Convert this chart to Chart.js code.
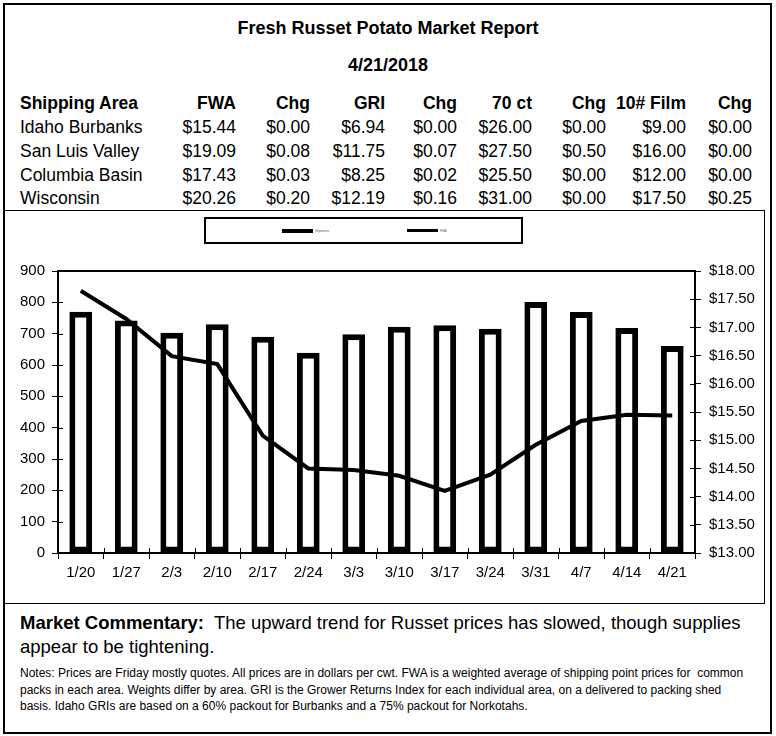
<!DOCTYPE html>
<html>
<head>
<meta charset="utf-8">
<title>Fresh Russet Potato Market Report</title>
<script src="https://cdn.jsdelivr.net/npm/chart.js@4.4.1/dist/chart.umd.min.js"></script>
<style>
  body { margin: 0; background: #fff; font-family: Arial, "Liberation Sans", sans-serif; color: #000; }
  #page { position: relative; width: 776px; height: 736px; overflow: hidden; }
  .abs { position: absolute; white-space: nowrap; line-height: 20px; }
  .box { position: absolute; border: 2px solid #000; box-sizing: border-box; }
  .title { left: 0; width: 776px; text-align: center; font-weight: bold; font-size: 18px; }
  .cell { font-size: 17.5px; }
  .hdr { font-weight: bold; }
  #chartWrap { position: absolute; left: 0; top: 250px; width: 776px; height: 350px; }
  .legLine { position: absolute; background: #000; }
  .legText { position: absolute; font-size: 3px; line-height: 4px; color: #555; }
  #comment { left: 20px; top: 611px; font-size: 18.5px; line-height: 24px; }
  #notes { left: 20px; top: 665px; font-size: 12px; line-height: 16.5px; }
</style>
</head>
<body>
<div id="page">
  <div class="box" style="left:3px;top:3px;width:769px;height:731px;"></div>
  <div class="box" style="left:3px;top:210px;width:762px;height:394px;border-width:1.5px;"></div>
  <div class="box" style="left:204px;top:217px;width:319px;height:27px;"></div>

  <div class="abs title" style="top:18px;">Fresh Russet Potato Market Report</div>
  <div class="abs title" style="top:55px;">4/21/2018</div>
  <div id="table"></div>

  <div class="legLine" style="left:282px;top:229px;width:31px;height:4px;"></div>
  <div class="legText" style="left:315px;top:229px;">Shipments</div>
  <div class="legLine" style="left:407px;top:229px;width:31px;height:3px;"></div>
  <div class="legText" style="left:440px;top:229px;">FWA</div>

  <div id="chartWrap"><canvas id="potato" width="776" height="350"></canvas></div>

  <div class="abs" id="comment"><b>Market Commentary:</b>&nbsp; The upward trend for Russet prices has slowed, though supplies<br>appear to be tightening.</div>
  <div class="abs" id="notes">Notes: Prices are Friday mostly quotes. All prices are in dollars per cwt. FWA is a weighted average of shipping point prices for &nbsp;common<br>packs in each area. Weights differ by area. GRI is the Grower Returns Index for each individual area, on a delivered to packing shed<br>basis. Idaho GRIs are based on a 60% packout for Burbanks and a 75% packout for Norkotahs.</div>
</div>

<script>
// table values
const tableHeaders = ['Shipping Area', 'FWA', 'Chg', 'GRI', 'Chg', '70 ct', 'Chg', '10# Film', 'Chg'];
const areas   = ['Idaho Burbanks', 'San Luis Valley', 'Columbia Basin', 'Wisconsin'];
const fwa     = ['$15.44', '$19.09', '$17.43', '$20.26'];
const fwaChg  = ['$0.00', '$0.08', '$0.03', '$0.20'];
const gri     = ['$6.94', '$11.75', '$8.25', '$12.19'];
const griChg  = ['$0.00', '$0.07', '$0.02', '$0.16'];
const ct70    = ['$26.00', '$27.50', '$25.50', '$31.00'];
const ct70Chg = ['$0.00', '$0.50', '$0.00', '$0.00'];
const film    = ['$9.00', '$16.00', '$12.00', '$17.50'];
const filmChg = ['$0.00', '$0.00', '$0.00', '$0.25'];

// chart values
const weeks = ['1/20', '1/27', '2/3', '2/10', '2/17', '2/24', '3/3', '3/10', '3/17', '3/24', '3/31', '4/7', '4/14', '4/21'];
const shipments = [770, 742, 703, 730, 690, 639, 698, 722, 727, 716, 801, 769, 718, 661];
const idahoFwa = [17.65, 17.15, 16.49, 16.35, 15.08, 14.50, 14.47, 14.37, 14.10, 14.39, 14.92, 15.34, 15.45, 15.44];
const shipTicks = [0, 100, 200, 300, 400, 500, 600, 700, 800, 900];
const priceTicks = [13, 13.5, 14, 14.5, 15, 15.5, 16, 16.5, 17, 17.5, 18];

// build the table
const colRight = [null, 236, 310, 385, 457, 532, 606, 686, 752];
const rowY = [93, 117, 141, 165, 188];
const columns = [areas, fwa, fwaChg, gri, griChg, ct70, ct70Chg, film, filmChg];
const tbl = document.getElementById('table');
function addCell(text, col, row, bold) {
  const d = document.createElement('div');
  d.className = 'abs cell' + (bold ? ' hdr' : '');
  d.textContent = text;
  d.style.top = rowY[row] + 'px';
  if (col === 0) d.style.left = '20px';
  else d.style.right = (776 - colRight[col]) + 'px';
  tbl.appendChild(d);
}
tableHeaders.forEach((h, c) => addCell(h, c, 0, true));
columns.forEach((vals, c) => vals.forEach((v, r) => addCell(v, c, r + 1, false)));

// box round the plot, and tick marks that cross the axes
const frameTicks = {
  id: 'frameTicks',
  afterDraw(chart) {
    const { ctx, chartArea: a, scales } = chart;
    ctx.save();
    ctx.strokeStyle = '#000';
    ctx.lineWidth = 2;
    ctx.beginPath();
    ctx.moveTo(a.left, a.top);
    ctx.lineTo(a.right, a.top);
    ctx.stroke();
    ctx.lineWidth = 1;
    ctx.beginPath();
    scales.y.ticks.forEach(t => {
      const py = Math.round(scales.y.getPixelForValue(t.value)) + 0.5;
      ctx.moveTo(a.left, py); ctx.lineTo(a.left + 5, py);
    });
    scales.y1.ticks.forEach(t => {
      const py = Math.round(scales.y1.getPixelForValue(t.value)) + 0.5;
      ctx.moveTo(a.right - 5, py); ctx.lineTo(a.right, py);
    });
    const half = (scales.x.getPixelForValue(1) - scales.x.getPixelForValue(0)) / 2;
    for (let i = 0; i <= weeks.length; i++) {
      const px = Math.round(scales.x.getPixelForValue(i) - half) + 0.5;
      ctx.moveTo(px, a.bottom); ctx.lineTo(px, a.bottom - 5);
    }
    ctx.stroke();
    ctx.restore();
  }
};

const tickFont = { family: 'Arial, "Liberation Sans", sans-serif', size: 15 };

const ctx = document.getElementById('potato').getContext('2d');
const potatoChart = new Chart(ctx, {
  data: {
    labels: weeks,
    datasets: [{
      type: 'line',
      label: 'FWA',
      data: idahoFwa,
      yAxisID: 'y1',
      borderColor: '#000',
      borderWidth: 4,
      pointRadius: 0,
      tension: 0,
      fill: false,
      order: 0
    }, {
      type: 'bar',
      label: 'Shipments',
      data: shipments,
      yAxisID: 'y',
      backgroundColor: '#fff',
      borderColor: '#000',
      borderWidth: 6,
      borderSkipped: false,
      barPercentage: 0.5,
      categoryPercentage: 1,
      order: 1
    }]
  },
  options: {
    responsive: false,
    animation: false,
    devicePixelRatio: 1,
    layout: { padding: { top: 21, left: 0, right: 0, bottom: 0 } },
    plugins: { legend: { display: false }, tooltip: { enabled: false } },
    scales: {
      x: {
        offset: true,
        grid: { offset: true, drawOnChartArea: false, color: '#000', tickLength: 6 },
        border: { color: '#000', width: 2 },
        ticks: { color: '#000', font: tickFont, padding: 5, maxRotation: 0, autoSkip: false },
        afterFit(scale) { scale.height = 47; }
      },
      y: {
        position: 'left',
        min: 0, max: 900,
        afterBuildTicks(scale) { scale.ticks = shipTicks.map(v => ({ value: v })); },
        grid: { drawOnChartArea: false, color: '#000', tickLength: 6 },
        border: { color: '#000', width: 2 },
        ticks: { color: '#000', font: tickFont, padding: 7 },
        afterFit(scale) { scale.width = 58; }
      },
      y1: {
        position: 'right',
        min: 13, max: 18,
        afterBuildTicks(scale) { scale.ticks = priceTicks.map(v => ({ value: v })); },
        grid: { drawOnChartArea: false, color: '#000', tickLength: 6 },
        border: { color: '#000', width: 2 },
        ticks: { color: '#000', font: tickFont, padding: 8, callback: v => '$' + Number(v).toFixed(2) },
        afterFit(scale) { scale.width = 81; }
      }
    }
  },
  plugins: [frameTicks]
});
</script>
</body>
</html>
